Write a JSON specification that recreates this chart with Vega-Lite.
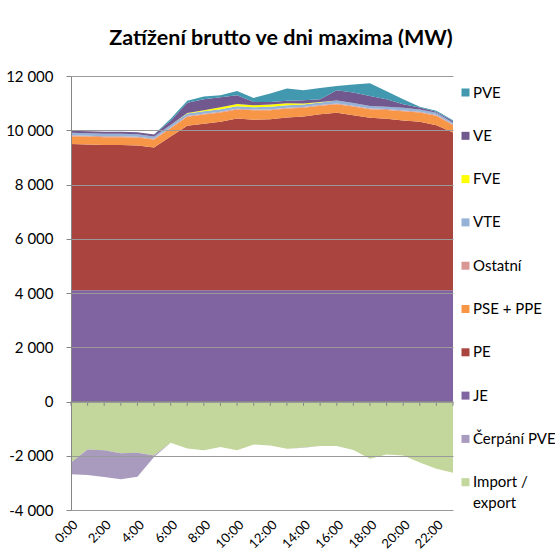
{
  "$schema": "https://vega.github.io/schema/vega-lite/v6.json",
  "width": 382,
  "height": 434,
  "autosize": {"type": "none"},
  "padding": {"left": 71, "top": 76, "right": 102, "bottom": 43},
  "background": "white",
  "config": {"font": "Lato", "view": {"stroke": null}, "axisX": {"labelOverlap": false}},
  "title": {"text": "Zatížení brutto ve dni maxima (MW)", "fontSize": 21.5, "fontWeight": "bold", "font": "Lato", "color": "black", "anchor": "middle", "dx": 19, "offset": 3, "baseline": "alphabetic"},
  "datasets": {
    "hours": [
      {"h": 0, "IE": -2250, "CP": -435, "JE": 4100, "PE": 5389, "PSE": 294, "OST": 30, "VTE": 92, "FVE": 0, "VE": 74, "PVE": 0},
      {"h": 1, "IE": -1770, "CP": -940, "JE": 4100, "PE": 5377, "PSE": 294, "OST": 30, "VTE": 92, "FVE": 0, "VE": 74, "PVE": 0},
      {"h": 2, "IE": -1800, "CP": -980, "JE": 4100, "PE": 5352, "PSE": 294, "OST": 30, "VTE": 92, "FVE": 0, "VE": 74, "PVE": 0},
      {"h": 3, "IE": -1910, "CP": -960, "JE": 4100, "PE": 5352, "PSE": 294, "OST": 30, "VTE": 92, "FVE": 0, "VE": 74, "PVE": 0},
      {"h": 4, "IE": -1890, "CP": -880, "JE": 4100, "PE": 5340, "PSE": 294, "OST": 30, "VTE": 92, "FVE": 0, "VE": 74, "PVE": 0},
      {"h": 5, "IE": -1990, "CP": -60, "JE": 4100, "PE": 5266, "PSE": 294, "OST": 30, "VTE": 81, "FVE": 0, "VE": 73, "PVE": 0},
      {"h": 6, "IE": -1520, "CP": -1, "JE": 4100, "PE": 5670, "PSE": 300, "OST": 30, "VTE": 90, "FVE": 0, "VE": 160, "PVE": 70},
      {"h": 7, "IE": -1730, "CP": -1, "JE": 4100, "PE": 6065, "PSE": 330, "OST": 30, "VTE": 92, "FVE": 23, "VE": 370, "PVE": 73},
      {"h": 8, "IE": -1800, "CP": -1, "JE": 4100, "PE": 6138, "PSE": 342, "OST": 30, "VTE": 92, "FVE": 37, "VE": 405, "PVE": 98},
      {"h": 9, "IE": -1680, "CP": -1, "JE": 4100, "PE": 6210, "PSE": 343, "OST": 30, "VTE": 93, "FVE": 74, "VE": 368, "PVE": 73},
      {"h": 10, "IE": -1800, "CP": -1, "JE": 4100, "PE": 6333, "PSE": 331, "OST": 30, "VTE": 92, "FVE": 86, "VE": 319, "PVE": 159},
      {"h": 11, "IE": -1585, "CP": -1, "JE": 4100, "PE": 6283, "PSE": 356, "OST": 30, "VTE": 81, "FVE": 73, "VE": 123, "PVE": 147},
      {"h": 12, "IE": -1620, "CP": -1, "JE": 4100, "PE": 6308, "PSE": 331, "OST": 30, "VTE": 93, "FVE": 87, "VE": 97, "PVE": 306},
      {"h": 13, "IE": -1740, "CP": -1, "JE": 4100, "PE": 6370, "PSE": 330, "OST": 30, "VTE": 93, "FVE": 74, "VE": 86, "PVE": 453},
      {"h": 14, "IE": -1700, "CP": -1, "JE": 4100, "PE": 6407, "PSE": 318, "OST": 30, "VTE": 93, "FVE": 37, "VE": 122, "PVE": 368},
      {"h": 15, "IE": -1640, "CP": -1, "JE": 4100, "PE": 6492, "PSE": 307, "OST": 30, "VTE": 92, "FVE": 20, "VE": 100, "PVE": 419},
      {"h": 16, "IE": -1640, "CP": -1, "JE": 4100, "PE": 6541, "PSE": 319, "OST": 30, "VTE": 105, "FVE": 0, "VE": 380, "PVE": 159},
      {"h": 17, "IE": -1790, "CP": -1, "JE": 4100, "PE": 6455, "PSE": 319, "OST": 30, "VTE": 105, "FVE": 0, "VE": 381, "PVE": 293},
      {"h": 18, "IE": -2110, "CP": -1, "JE": 4100, "PE": 6357, "PSE": 319, "OST": 30, "VTE": 92, "FVE": 0, "VE": 368, "PVE": 466},
      {"h": 19, "IE": -1950, "CP": -1, "JE": 4100, "PE": 6320, "PSE": 331, "OST": 30, "VTE": 81, "FVE": 0, "VE": 282, "PVE": 294},
      {"h": 20, "IE": -1990, "CP": -1, "JE": 4100, "PE": 6259, "PSE": 343, "OST": 30, "VTE": 93, "FVE": 0, "VE": 135, "PVE": 184},
      {"h": 21, "IE": -2250, "CP": -1, "JE": 4100, "PE": 6210, "PSE": 343, "OST": 30, "VTE": 81, "FVE": 0, "VE": 73, "PVE": 25},
      {"h": 22, "IE": -2480, "CP": -1, "JE": 4100, "PE": 6088, "PSE": 342, "OST": 30, "VTE": 81, "FVE": 0, "VE": 37, "PVE": 37},
      {"h": 23, "IE": -2630, "CP": -1, "JE": 4100, "PE": 5820, "PSE": 268, "OST": 30, "VTE": 55, "FVE": 0, "VE": 62, "PVE": 37}
    ],
    "series": [
      {"key": "IE", "name": "Import / export", "k": 0},
      {"key": "CP", "name": "Čerpání PVE", "k": 1},
      {"key": "JE", "name": "JE", "k": 2},
      {"key": "PE", "name": "PE", "k": 3},
      {"key": "PSE", "name": "PSE + PPE", "k": 4},
      {"key": "OST", "name": "Ostatní", "k": 5},
      {"key": "VTE", "name": "VTE", "k": 6},
      {"key": "FVE", "name": "FVE", "k": 7},
      {"key": "VE", "name": "VE", "k": 8},
      {"key": "PVE", "name": "PVE", "k": 9}
    ]
  },
  "layer": [
    {
      "data": {"name": "hours"},
      "transform": [
        {"fold": ["IE", "CP", "JE", "PE", "PSE", "OST", "VTE", "FVE", "VE", "PVE"], "as": ["key", "v"]},
        {"lookup": "key", "from": {"data": {"name": "series"}, "key": "key", "fields": ["name", "k"]}}
      ],
      "mark": {"type": "area", "interpolate": "linear"},
      "encoding": {
        "x": {
          "field": "h", "type": "quantitative",
          "scale": {"domain": [0, 23], "nice": false, "zero": false},
          "axis": {
            "values": [0, 2, 4, 6, 8, 10, 12, 14, 16, 18, 20, 22],
            "labelExpr": "datum.value + ':00'",
            "labelAngle": -45, "labelAlign": "right", "labelBaseline": "top",
            "ticks": false, "domain": false, "grid": false,
            "labelFontSize": 13, "labelColor": "black", "labelPadding": 8,
            "labelOverlap": false, "labelFlush": false,
            "title": null
          }
        },
        "y": {
          "field": "v", "type": "quantitative", "stack": "zero",
          "scale": {"domain": [-4000, 12000], "nice": false},
          "axis": {
            "values": [-4000, -2000, 0, 2000, 4000, 6000, 8000, 10000, 12000],
            "labelExpr": "(datum.value < 0 ? '-' : '') + replace(format(abs(datum.value), ','), ',', ' ')",
            "grid": true, "gridColor": "#9A9A9A", "gridWidth": 1,
            "domainColor": "#868686", "tickColor": "#868686", "tickSize": 5,
            "labelFontSize": 15, "labelColor": "black", "labelPadding": 13,
            "zindex": 1, "title": null
          }
        },
        "color": {
          "field": "name", "type": "nominal",
          "scale": {
            "domain": ["PVE", "VE", "FVE", "VTE", "Ostatní", "PSE + PPE", "PE", "JE", "Čerpání PVE", "Import / export"],
            "range": ["#4198AF", "#71588F", "#FFFF00", "#95B3D7", "#D99694", "#F79646", "#A9443F", "#8064A2", "#A99BBD", "#C3D69B"]
          },
          "legend": {
            "orient": "right", "offset": -4, "padding": 9, "title": null,
            "symbolType": "square", "symbolSize": 64, "symbolStrokeWidth": 0,
            "labelFontSize": 15, "labelColor": "black", "labelOffset": 0,
            "rowPadding": 27.3, "labelLimit": 200,
            "labelExpr": "datum.label == 'Import / export' ? ['Import /', 'export'] : datum.label",
            "encode": {
              "labels": {
                "update": {
                  "lineHeight": {"value": 21}
                }
              }
            }
          }
        },
        "order": {"field": "k", "type": "quantitative", "sort": "ascending"}
      }
    },
    {
      "data": {"values": [{}]},
      "mark": {"type": "rule", "color": "#868686", "strokeWidth": 1},
      "encoding": {"y": {"datum": 0}}
    },
    {
      "data": {"name": "hours"},
      "mark": {"type": "rule", "color": "#868686", "strokeWidth": 1},
      "encoding": {
        "x": {
          "field": "h", "type": "quantitative",
          "axis": {
            "values": [0, 2, 4, 6, 8, 10, 12, 14, 16, 18, 20, 22],
            "labelExpr": "datum.value + ':00'",
            "labelAngle": -45, "labelAlign": "right", "labelBaseline": "top",
            "ticks": false, "domain": false, "grid": false,
            "labelFontSize": 13, "labelColor": "black", "labelPadding": 8,
            "labelOverlap": false, "labelFlush": false,
            "title": null
          }
        },
        "y": {"datum": 0},
        "y2": {"datum": -160}
      }
    }
  ]
}
